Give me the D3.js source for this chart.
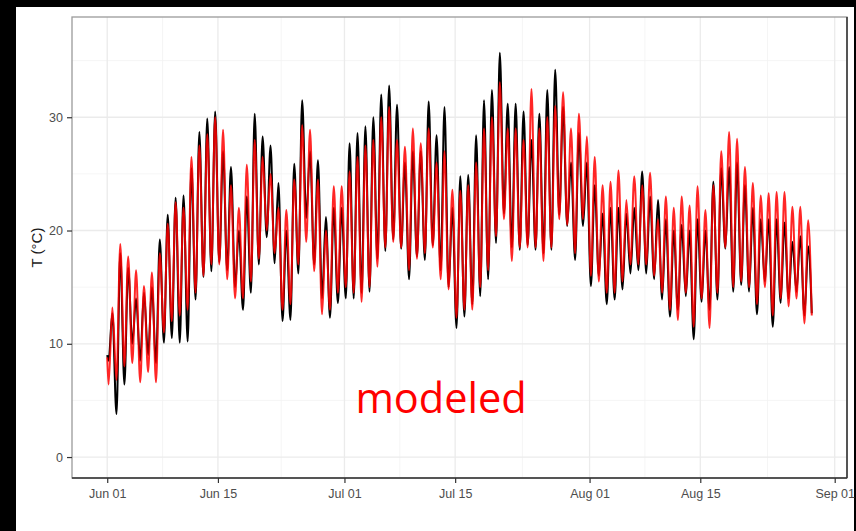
<!DOCTYPE html>
<html lang="en">
<head>
<meta charset="utf-8">
<title>Observed vs modeled temperature</title>
<script src="https://d3js.org/d3.v7.min.js"></script>
<style>
  body { margin: 0; background: #000; }
  svg { display: block; }
</style>
</head>
<body>
<svg id="chart"></svg>
<script>
// daily minima / maxima, one entry per day from Jun 01
const obsMin = [8.5, 3.8, 6.4, 10.0, 8.5, 9.0, 8.3, 10.1, 10.5, 10.1, 10.2, 13.9, 15.9, 16.4, 17.2,
  16.5, 15.0, 13.0, 14.5, 17.0, 19.4, 17.1, 12.0, 12.1, 16.2, 21.1, 17.0, 14.0, 12.3, 13.6,
  14.0, 14.0, 14.5, 14.6, 17.5, 18.2, 19.2, 18.4, 15.7, 17.7, 17.4, 18.7, 16.5, 15.0, 11.4,
  12.4, 13.5, 14.2, 15.7, 18.9, 21.5, 18.5, 18.3, 18.7, 18.3, 18.0, 18.3, 21.4, 20.4, 17.4,
  20.4, 15.1, 16.0, 13.5, 13.9, 14.8, 16.2, 16.5, 16.2, 15.7, 13.9, 12.4, 13.0, 14.2, 10.4,
  13.7, 13.0, 13.9, 18.4, 14.6, 15.2, 14.6, 12.6, 15.5, 11.5, 13.6, 14.0, 14.6, 12.5];
const obsMax = [12.7, 18.0, 16.7, 14.0, 14.5, 15.0, 19.2, 21.4, 22.9, 23.1, 25.5, 28.7, 29.9, 30.5, 27.0,
  25.6, 20.0, 23.0, 30.3, 28.3, 27.5, 24.2, 20.0, 25.9, 31.5, 27.0, 26.2, 21.2, 22.0, 22.0,
  27.7, 28.6, 29.2, 30.0, 32.0, 32.8, 31.1, 26.0, 27.0, 27.0, 31.4, 28.4, 30.9, 22.0, 24.8,
  24.9, 28.4, 31.5, 32.4, 35.7, 31.2, 31.2, 30.5, 28.0, 30.3, 32.4, 34.2, 30.9, 26.0, 28.6,
  26.0, 24.0, 21.5, 22.0, 22.0, 21.5, 22.0, 25.2, 23.0, 22.7, 21.0, 20.0, 20.5, 20.0, 21.0,
  20.0, 24.3, 25.5, 25.6, 26.0, 24.0, 22.0, 21.0, 21.0, 21.0, 20.7, 19.0, 19.5, 18.6];
const modMin = [6.4, 6.8, 8.0, 8.3, 6.6, 7.5, 6.6, 11.0, 12.0, 12.5, 13.0, 14.5, 16.0, 17.0, 17.0,
  15.7, 14.0, 14.0, 15.5, 17.5, 20.0, 18.0, 13.0, 13.5, 17.0, 19.0, 16.4, 12.6, 13.0, 14.5,
  15.0, 14.5, 13.7, 15.0, 16.8, 18.5, 19.0, 18.5, 16.5, 17.5, 18.0, 18.5, 15.7, 14.8, 12.3,
  13.0, 13.0, 15.0, 16.5, 19.5, 21.0, 17.3, 18.5, 18.5, 18.5, 17.3, 18.5, 21.0, 20.5, 18.0,
  21.0, 16.0, 15.5, 14.5, 14.5, 15.5, 17.0, 17.0, 17.0, 16.0, 14.5, 13.0, 12.1, 14.5, 11.5,
  14.0, 11.4, 14.5, 18.5, 15.0, 15.5, 15.0, 13.5, 15.0, 12.5, 14.0, 13.3, 14.0, 11.8];
const modMax = [13.2, 18.8, 17.7, 16.5, 15.1, 16.3, 18.0, 20.6, 22.5, 22.0, 26.5, 27.5, 28.5, 30.0, 28.9,
  24.0, 22.0, 25.8, 28.0, 26.5, 25.0, 22.0, 21.8, 24.5, 29.3, 28.9, 24.5, 20.0, 23.9, 23.9,
  25.2, 26.5, 27.5, 28.0, 30.0, 30.9, 28.0, 27.4, 29.0, 27.7, 29.0, 26.0, 27.0, 23.6, 23.5,
  24.0, 26.0, 29.0, 30.0, 33.1, 29.0, 29.0, 28.0, 32.5, 29.0, 30.0, 31.0, 32.2, 29.0, 30.3,
  28.3, 26.5, 24.0, 24.3, 25.3, 22.7, 24.8, 24.0, 25.1, 21.0, 23.0, 22.0, 23.0, 22.2, 23.9,
  21.8, 24.0, 27.0, 28.7, 28.1, 25.6, 24.2, 23.1, 23.3, 23.4, 23.4, 22.1, 22.1, 20.9];
// first and last readings of each series
const obsEnds = [9.0, 12.7];
const modEnds = [8.8, 12.5];
const seriesEnd = 89.1;   // days after Jun 01 of last reading

const yTicks = [0, 10, 20, 30];
const yMinor = [5, 15, 25, 35];
const xTickDates = ["2018-06-01", "2018-06-15", "2018-07-01", "2018-07-15", "2018-08-01", "2018-08-15", "2018-09-01"];

const W = 856, H = 531;
const margin = {top: 17, right: 9, bottom: 53, left: 72};
const DAY = 86400000;
const t0 = Date.UTC(2018, 5, 1);

function buildSeries(mins, maxs, ends) {
  let pts = [{t: 0, v: ends[0]}];
  for (let i = 0; i < mins.length; i++) {
    pts.push({t: i + 0.17, v: mins[i]});
    pts.push({t: i + 0.65, v: maxs[i]});
  }
  pts.push({t: seriesEnd, v: ends[1]});
  return pts.map(p => ({date: new Date(t0 + p.t * DAY), v: p.v}));
}
const observed = buildSeries(obsMin, obsMax, obsEnds);
const modeled = buildSeries(modMin, modMax, modEnds);

const svg = d3.select("#chart").attr("width", W).attr("height", H);
svg.append("rect").attr("width", W).attr("height", H).attr("fill", "#000");
svg.append("rect").attr("x", 16).attr("y", 7).attr("width", 838).attr("height", H - 7).attr("fill", "#fff");

// ggplot style 5% expansion of the data range
const ext = d3.extent(observed, d => d.date);
const pad = (ext[1] - ext[0]) * 0.05;
const x = d3.scaleUtc()
  .domain([new Date(+ext[0] - pad), new Date(+ext[1] + pad)])
  .range([margin.left, W - margin.right]);
const y = d3.scaleLinear()
  .domain([-1.85, 38.85])
  .range([H - margin.bottom, margin.top]);

const xTicks = xTickDates.map(s => new Date(s + "T00:00:00Z"));
const xMinor = d3.pairs(xTicks).map(p => new Date((+p[0] + +p[1]) / 2));

let grid = svg.append("g");
grid.selectAll(".ymin").data(yMinor).join("line")
  .attr("x1", margin.left).attr("x2", W - margin.right)
  .attr("y1", d => y(d)).attr("y2", d => y(d))
  .attr("stroke", "#f3f3f3").attr("stroke-width", 0.8);
grid.selectAll(".xmin").data(xMinor).join("line")
  .attr("y1", margin.top).attr("y2", H - margin.bottom)
  .attr("x1", d => x(d)).attr("x2", d => x(d))
  .attr("stroke", "#f3f3f3").attr("stroke-width", 0.8);
grid.selectAll(".ymaj").data(yTicks).join("line")
  .attr("x1", margin.left).attr("x2", W - margin.right)
  .attr("y1", d => y(d)).attr("y2", d => y(d))
  .attr("stroke", "#ebebeb").attr("stroke-width", 1.3);
grid.selectAll(".xmaj").data(xTicks.filter(d => x(d) < W - margin.right)).join("line")
  .attr("y1", margin.top).attr("y2", H - margin.bottom)
  .attr("x1", d => x(d)).attr("x2", d => x(d))
  .attr("stroke", "#ebebeb").attr("stroke-width", 1.3);

const line = d3.line()
  .x(d => x(d.date))
  .y(d => y(d.v))
  .curve(d3.curveMonotoneX);

svg.append("path").datum(observed)
  .attr("d", line).attr("fill", "none")
  .attr("stroke", "#000").attr("stroke-width", 2);
svg.append("path").datum(modeled)
  .attr("d", line).attr("fill", "none")
  .attr("stroke", "#ff0000").attr("stroke-opacity", 0.85).attr("stroke-width", 2);

// panel border
svg.append("rect")
  .attr("x", margin.left).attr("y", margin.top)
  .attr("width", W - margin.right - margin.left).attr("height", H - margin.bottom - margin.top)
  .attr("fill", "none").attr("stroke", "#9a9a9a").attr("stroke-width", 1.3);

const xAxis = svg.append("g")
  .attr("transform", "translate(0," + (H - margin.bottom) + ")")
  .call(d3.axisBottom(x).tickValues(xTicks).tickFormat(d3.utcFormat("%b %d")).tickSize(5).tickPadding(6));
const yAxis = svg.append("g")
  .attr("transform", "translate(" + margin.left + ",0)")
  .call(d3.axisLeft(y).tickValues(yTicks).tickSize(5).tickPadding(4));
[xAxis, yAxis].forEach(a => {
  a.select(".domain").remove();
  a.selectAll("line").attr("stroke", "#333").attr("stroke-width", 1.2);
  a.selectAll("text").attr("fill", "#4d4d4d")
    .style("font-family", "'Liberation Sans', Arial, sans-serif").style("font-size", "12.5px");
});

// darker bottom and right edges
svg.append("line")
  .attr("x1", margin.left).attr("x2", W - margin.right)
  .attr("y1", H - margin.bottom).attr("y2", H - margin.bottom)
  .attr("stroke", "#333").attr("stroke-width", 1.5);
svg.append("line")
  .attr("x1", W - margin.right).attr("x2", W - margin.right)
  .attr("y1", margin.top).attr("y2", H - margin.bottom)
  .attr("stroke", "#333").attr("stroke-width", 1.5);

svg.append("text")
  .attr("transform", "translate(42," + ((margin.top + H - margin.bottom) / 2) + ") rotate(-90)")
  .attr("text-anchor", "middle")
  .style("font-family", "'Liberation Sans', Arial, sans-serif").style("font-size", "15px")
  .attr("fill", "#1a1a1a")
  .text("T (°C)");

svg.append("text")
  .attr("x", 441).attr("y", 413)
  .attr("text-anchor", "middle")
  .style("font-family", "'Open Sans', sans-serif").style("font-size", "41.5px")
  .attr("fill", "#ff0000")
  .text("modeled");
</script>
</body>
</html>
